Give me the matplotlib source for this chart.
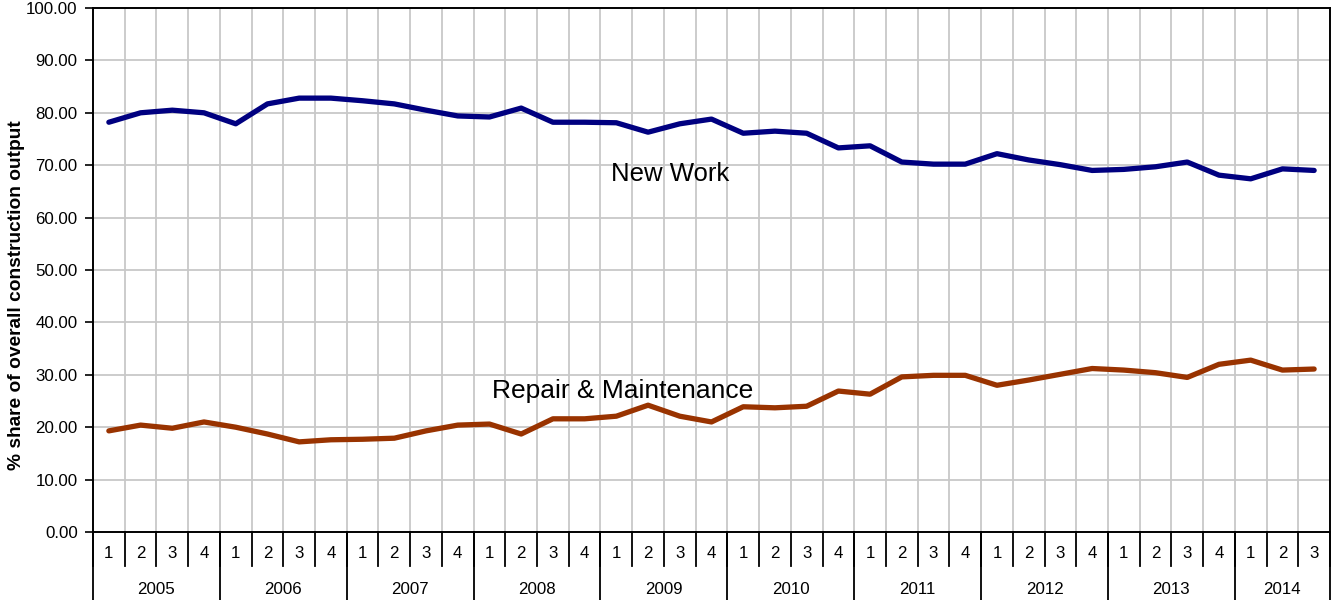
import matplotlib
matplotlib.use("Agg")
import matplotlib.pyplot as plt
import matplotlib.transforms as mtransforms
import numpy as np

plt.rcParams['font.family'] = ['Liberation Sans', 'DejaVu Sans']

years = ["2005", "2006", "2007", "2008", "2009", "2010", "2011", "2012", "2013", "2014"]
quarters_per_year = [4, 4, 4, 4, 4, 4, 4, 4, 4, 3]

new_work = [78.2, 80.0, 80.5, 80.0, 77.9, 81.7, 82.8, 82.8,
            82.3, 81.7, 80.5, 79.4, 79.2, 80.9, 78.2, 78.2,
            78.1, 76.3, 77.9, 78.8, 76.1, 76.5, 76.1, 73.3,
            73.7, 70.6, 70.2, 70.2, 72.2, 71.0, 70.1, 69.0,
            69.2, 69.7, 70.6, 68.1, 67.4, 69.3, 69.0]
repair = [19.3, 20.4, 19.8, 21.0, 20.0, 18.7, 17.2, 17.6,
          17.7, 17.9, 19.3, 20.4, 20.6, 18.7, 21.6, 21.6,
          22.1, 24.2, 22.1, 21.0, 23.9, 23.7, 24.0, 26.9,
          26.3, 29.6, 29.9, 29.9, 28.0, 29.0, 30.1, 31.2,
          30.9, 30.4, 29.5, 32.0, 32.8, 30.9, 31.1]

quarter_labels = []
for n in quarters_per_year:
    quarter_labels += [str(q + 1) for q in range(n)]

W, H = 1332, 600
fig = plt.figure(figsize=(W / 100, H / 100), dpi=100)
ax = fig.add_axes([93 / W, 1 - 532 / H, (1330 - 93) / W, (532 - 8) / H])

n = len(new_work)
x = np.arange(n)
ax.plot(x, new_work, color="#000080", lw=3.8, solid_joinstyle="round", solid_capstyle="round", zorder=3)
ax.plot(x, repair, color="#993300", lw=3.8, solid_joinstyle="round", solid_capstyle="round", zorder=3)

ax.set_xlim(-0.5, n - 0.5)
ax.set_ylim(0, 100)
ax.set_yticks(np.arange(0, 101, 10))
ax.set_yticklabels([f"{v:.2f}" for v in np.arange(0, 101, 10)], fontsize=12.2)
ax.tick_params(axis="y", direction="out", length=6, width=1.2, pad=5, colors="black")
ax.set_xticks([])

# grid
for v in range(10, 100, 10):
    ax.axhline(v, color="#c8c8c8", lw=1.3, zorder=1)
for b in range(1, n):
    ax.axvline(b - 0.5, color="#c8c8c8", lw=1.3, zorder=1)

for s in ax.spines.values():
    s.set_color("black")
    s.set_linewidth(1.4)

ax.set_ylabel("% share of overall construction output", fontsize=13.8, fontweight="bold")
ax.yaxis.set_label_coords(-(93 - 25) / (1330 - 93), (532 - 295) / (532 - 8))

# two-level category axis
trans = mtransforms.blended_transform_factory(ax.transData, ax.transAxes)
px = 1 / (532 - 8)
q_bottom = -(566 - 532) * px
y_bottom = -(600 - 532) * px - 0.01
for i in range(n):
    ax.text(i, -(553 - 532) * px, quarter_labels[i], transform=trans, ha="center", va="center", fontsize=12.2)
for b in range(n + 1):
    ax.plot([b - 0.5, b - 0.5], [0, q_bottom], transform=trans, color="black", lw=1.3, clip_on=False)
start = 0
for yr, cnt in zip(years, quarters_per_year):
    center = start + (cnt - 1) / 2
    ax.text(center, -(590 - 532) * px, yr, transform=trans, ha="center", va="center", fontsize=12.2)
    ax.plot([start - 0.5, start - 0.5], [0, y_bottom], transform=trans, color="black", lw=1.3, clip_on=False)
    start += cnt
ax.plot([n - 0.5, n - 0.5], [0, y_bottom], transform=trans, color="black", lw=1.3, clip_on=False)

# series labels
ax.text(17.7, 68.3, "New Work", fontsize=18.5, ha="center", va="center")
ax.text(16.2, 26.9, "Repair & Maintenance", fontsize=19, ha="center", va="center")

fig.savefig("out.png", dpi=100)
